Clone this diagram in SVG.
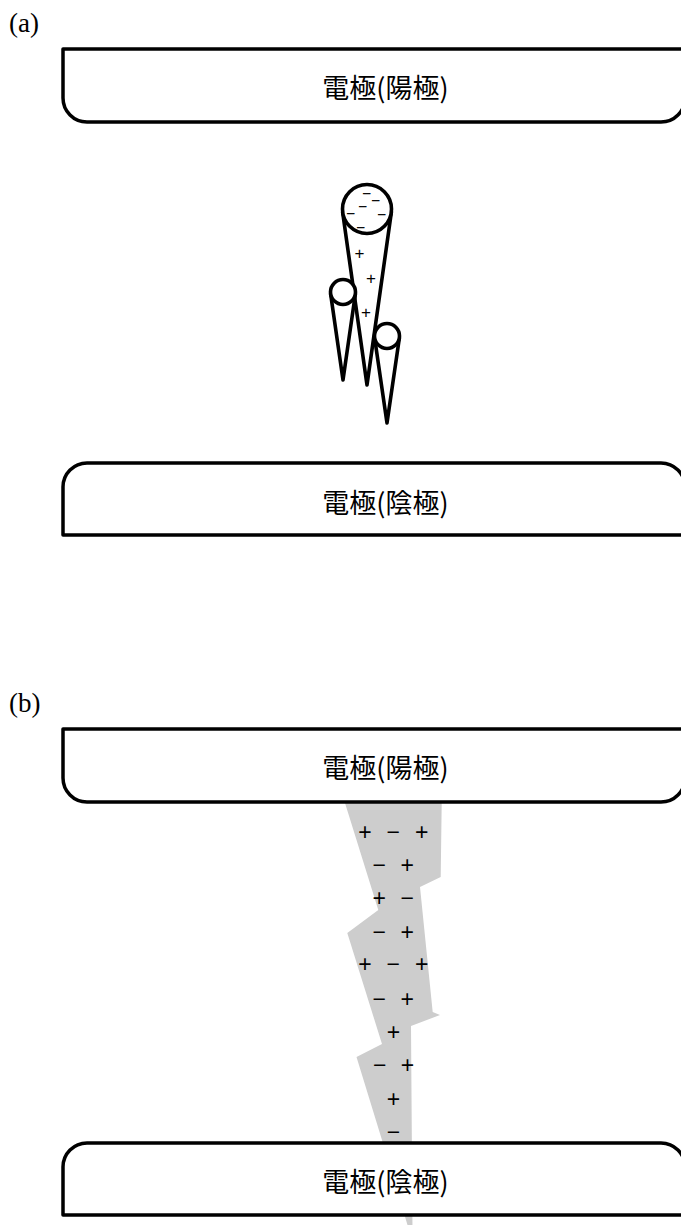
<svg xmlns="http://www.w3.org/2000/svg" width="681" height="1225" viewBox="0 0 681 1225">
  <style>
    .panel { font-family: "Liberation Serif", serif; font-size: 27px; fill: #000; }
    .electrode { fill: #fff; stroke: #000; stroke-width: 3.5; stroke-linejoin: round; }
    .elabel { font-family: "Noto Sans CJK JP", "Noto Sans CJK SC", sans-serif; font-size: 27px; fill: #000; text-anchor: middle; }
    .body { fill: #fff; stroke: #000; stroke-width: 3.6; stroke-linejoin: round; }
    .q-head { font-family: "Liberation Sans", sans-serif; font-size: 10px; fill: #000; stroke: #000; stroke-width: 0.6; text-anchor: middle; }
    .q-trail { font-family: "Liberation Sans", sans-serif; font-size: 17px; fill: #000; text-anchor: middle; }
    .q { font-family: "Liberation Sans", sans-serif; font-size: 23px; fill: #000; text-anchor: middle; }
    .channel { fill: #cdcdcd; stroke: none; }
  </style>

  <!-- ===== (a) ===== -->
  <text class="panel" x="9" y="32">(a)</text>

  <g id="anode-a">
    <path class="electrode" d="M63,49 H685 V98 A24,24 0 0 1 661,122 H87 A24,24 0 0 1 63,98 Z"/>
    <text class="elabel" x="385.5" y="98">電極(陽極)</text>
  </g>

  <g id="streamer-a">
    <!-- main cone with charged head -->
    <path class="body" d="M342.6,212 L367,385 L391.4,212 Z"/>
    <circle class="body" cx="367" cy="209" r="24.5"/>
    <!-- side branch, left -->
    <path class="body" d="M330.6,293.8 L343,380 L355.4,293.8 Z"/>
    <circle class="body" cx="343" cy="292" r="12.5"/>
    <!-- side branch, right -->
    <path class="body" d="M374.6,337.8 L387,423 L399.4,337.8 Z"/>
    <circle class="body" cx="387" cy="336" r="12.5"/>
    <!-- negative charge in the head -->
    <text class="q-head" x="367" y="197" textLength="8" lengthAdjust="spacingAndGlyphs">−</text>
    <text class="q-head" x="376" y="204" textLength="8" lengthAdjust="spacingAndGlyphs">−</text>
    <text class="q-head" x="363" y="210" textLength="8" lengthAdjust="spacingAndGlyphs">−</text>
    <text class="q-head" x="351" y="217" textLength="8" lengthAdjust="spacingAndGlyphs">−</text>
    <text class="q-head" x="382" y="218" textLength="8" lengthAdjust="spacingAndGlyphs">−</text>
    <text class="q-head" x="361" y="231" textLength="8" lengthAdjust="spacingAndGlyphs">−</text>
    <!-- positive charge in the trail -->
    <text class="q-trail" x="359.5" y="259">+</text>
    <text class="q-trail" x="371" y="284">+</text>
    <text class="q-trail" x="366" y="317.5">+</text>
  </g>

  <g id="cathode-a">
    <path class="electrode" d="M63,535 H685 V487 A24,24 0 0 0 661,463 H87 A24,24 0 0 0 63,487 Z"/>
    <text class="elabel" x="385.5" y="513">電極(陰極)</text>
  </g>

  <!-- ===== (b) ===== -->
  <text class="panel" x="9" y="712">(b)</text>

  <g id="channel-b">
    <polygon class="channel" points="341,790 443,790 441.7,803 440.7,877 420,887 432.7,1012 440,1015 411,1026 412.5,1230 409,1230 382.6,1142 356.5,1057 382,1044 347.3,933 378.3,910 345,803"/>
    <text class="q" x="365" y="840">+</text>
    <text class="q" x="393.3" y="840">−</text>
    <text class="q" x="421.7" y="840">+</text>
    <text class="q" x="379.3" y="873">−</text>
    <text class="q" x="407.3" y="873">+</text>
    <text class="q" x="379.3" y="905.5">+</text>
    <text class="q" x="407.3" y="905.5">−</text>
    <text class="q" x="379.3" y="940">−</text>
    <text class="q" x="407.3" y="940">+</text>
    <text class="q" x="365" y="972">+</text>
    <text class="q" x="393.3" y="972">−</text>
    <text class="q" x="421.7" y="972">+</text>
    <text class="q" x="379.3" y="1007">−</text>
    <text class="q" x="407.3" y="1007">+</text>
    <text class="q" x="393.5" y="1040">+</text>
    <text class="q" x="379.6" y="1073">−</text>
    <text class="q" x="407.4" y="1073">+</text>
    <text class="q" x="393.5" y="1107">+</text>
    <text class="q" x="393.5" y="1140">−</text>
  </g>

  <g id="anode-b">
    <path class="electrode" d="M63,729 H685 V778 A24,24 0 0 1 661,802 H87 A24,24 0 0 1 63,778 Z"/>
    <text class="elabel" x="385.5" y="778">電極(陽極)</text>
  </g>

  <g id="cathode-b">
    <path class="electrode" d="M63,1215 H685 V1167 A24,24 0 0 0 661,1143 H87 A24,24 0 0 0 63,1167 Z"/>
    <text class="elabel" x="385.5" y="1192">電極(陰極)</text>
  </g>
</svg>
